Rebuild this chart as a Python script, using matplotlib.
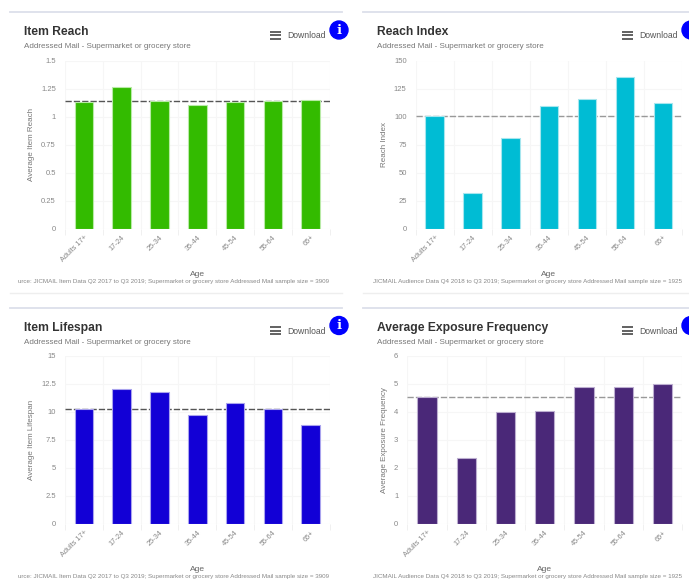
import matplotlib
matplotlib.use('Agg')
import matplotlib.pyplot as plt
from matplotlib.patches import Circle

plt.rcParams['font.family'] = ['Liberation Sans', 'DejaVu Sans']

W, H = 689, 583

ages = ['Adults 17+', '17-24', '25-34', '35-44', '45-54', '55-64', '65+']

reach = [1.13, 1.26, 1.14, 1.10, 1.13, 1.14, 1.15]
reach_index = [100, 32, 81, 109, 116, 135, 112]
lifespan = [10.2, 12.0, 11.8, 9.75, 10.75, 10.25, 8.85]
frequency = [4.52, 2.33, 3.99, 4.04, 4.87, 4.87, 5.0]

reach_ticks = ['0', '0.25', '0.5', '0.75', '1', '1.25', '1.5']
index_ticks = ['0', '25', '50', '75', '100', '125', '150']
lifespan_ticks = ['0', '2.5', '5', '7.5', '10', '12.5', '15']
frequency_ticks = ['0', '1', '2', '3', '4', '5', '6']

subtitle = 'Addressed Mail - Supermarket or grocery store'
source_item = 'urce: JICMAIL Item Data Q2 2017 to Q3 2019; Supermarket or grocery store Addressed Mail sample size = 3909'
source_aud = 'JICMAIL Audience Data Q4 2018 to Q3 2019; Supermarket or grocery store Addressed Mail sample size = 1925'

fig = plt.figure(figsize=(W / 100, H / 100), dpi=100, facecolor='white')

# calque en pixels pour les filets, icones, titres
bg = fig.add_axes([0, 0, 1, 1])
bg.set_xlim(0, W)
bg.set_ylim(H, 0)
bg.axis('off')


def panel(x0, x1, y0, y1, left, right, top, title, values, ticks, ref, ref_color, color, edge, ylabel, ylab_x, source, btn_x):
    ax = fig.add_axes([x0 / W, 1 - y1 / H, (x1 - x0) / W, (y1 - y0) / H])
    ax.set_facecolor('none')
    pos = range(len(ages))
    nums = [float(t) for t in ticks]
    ax.bar(pos, values, width=0.49, color=color, edgecolor=edge, linewidth=0.8, zorder=3)
    ax.axhline(ref, color=ref_color, lw=1, ls=(0, (4.5, 1.5)), zorder=2)
    ax.set_xlim(-0.5, len(ages) - 0.5)
    ax.set_ylim(0, nums[-1])
    ax.set_yticks(nums)
    ax.set_yticklabels(ticks, fontsize=5.5, color='#888888')
    ax.set_xticks(list(pos))
    ax.set_xticklabels(ages, fontsize=5.3, color='#888888', rotation=45, ha='right', va='top', rotation_mode='anchor')
    ax.set_xticks([p - 0.5 for p in range(len(ages) + 1)], minor=True)
    ax.tick_params(axis='x', which='major', length=0, pad=4)
    ax.tick_params(axis='x', which='minor', length=4.5, width=0.7, color='#f0f0f0')
    ax.tick_params(axis='y', length=0, pad=6.5)
    ax.grid(True, axis='y', color='#f6f6f6', lw=0.8, zorder=0)
    ax.grid(True, axis='x', which='minor', color='#f6f6f6', lw=0.8, zorder=0)
    ax.set_axisbelow(True)
    for s in ax.spines.values():
        s.set_visible(False)
    ax.set_xlabel('Age', fontsize=6.0, color='#666666')
    ax.xaxis.set_label_coords(0.5, -42 / (y1 - y0))
    ax.set_ylabel(ylabel, fontsize=5.8, color='#777777')
    ax.yaxis.set_label_coords((ylab_x - x0) / (x1 - x0), 0.5)

    bg.plot([left, right], [top, top], color='#dcdfea', lw=1.3)
    bg.text(left + 14, top + 20, title, fontsize=8.7, fontweight='bold', color='#333333', va='center')
    bg.text(left + 14, top + 35, subtitle, fontsize=5.75, color='#777777', va='center')
    bg.text(btn_x, top + 23.5, 'Download', fontsize=6.2, color='#555555', va='center')
    for dy in (-3.5, 0, 3.5):
        bg.plot([btn_x - 17, btn_x - 6], [top + 23 + dy, top + 23 + dy], color='#555555', lw=1.3, solid_capstyle='butt')
    bg.add_patch(Circle((btn_x + 52, top + 18), 9, color='#0000ff', zorder=5))
    # le i des cartes de droite tombe hors de l'image
    if btn_x + 52 < W:
        bg.text(btn_x + 52, top + 18, 'i', fontsize=9.5, fontweight='bold', color='white', family='DejaVu Serif', ha='center', va='center', zorder=6)
    bg.text(x1, y1 + 53, source, fontsize=4.48, color='#888888', ha='right', va='center')


panel(65, 329.5, 60.5, 228.5, 10, 342, 12, 'Item Reach', reach, reach_ticks, 1.135, '#555555',
      '#33bb00', '#b8eaa6', 'Average Item Reach', 35, source_item, 287)
panel(415.7, 682, 60.5, 228.5, 363, 689, 12, 'Reach Index', reach_index, index_ticks, 100, '#999999',
      '#00bcd4', '#a6e6ee', 'Reach Index', 388, source_aud, 639)
panel(65, 329.5, 355.7, 523.7, 10, 342, 307.5, 'Item Lifespan', lifespan, lifespan_ticks, 10.25, '#555555',
      '#1200d6', '#a9a3ee', 'Average Item Lifespan', 35, source_item, 287)
panel(407.3, 682, 355.7, 523.7, 363, 689, 307.5, 'Average Exposure Frequency', frequency, frequency_ticks, 4.54, '#999999',
      '#4a2878', '#bcaed0', 'Average Exposure Frequency', 388, source_aud, 639)

# filets bas
bg.plot([10, 342], [293, 293], color='#eeeeee', lw=1)
bg.plot([363, 689], [293, 293], color='#eeeeee', lw=1)

fig.savefig('out.png', dpi=100)
